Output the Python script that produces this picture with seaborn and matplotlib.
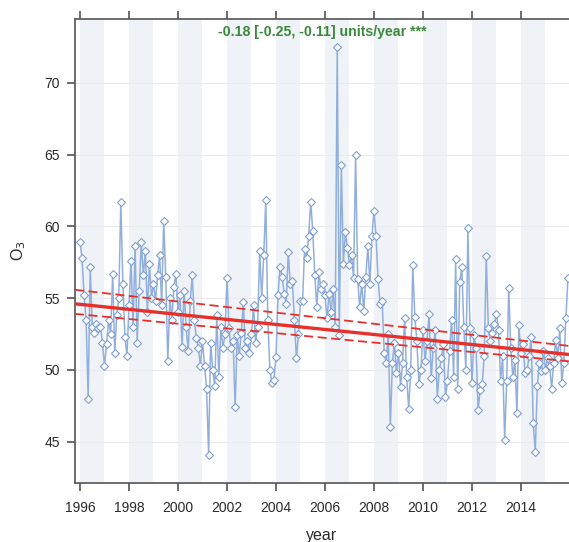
import numpy as np
import pandas as pd
import matplotlib
matplotlib.use("Agg")
import matplotlib.pyplot as plt
import seaborn as sns

# ---- data (monthly mean O3, Jan 1996 - Dec 2015) ----
years = list(range(1996, 2016))
o3_1996 = [58.9, 57.8, 55.2, 53.5, 48.0, 57.2, 53.0, 52.6, 53.2, 52.9, 53.0, 51.9]
o3_1997 = [50.3, 51.8, 53.5, 52.5, 56.7, 51.2, 53.8, 55.0, 61.7, 56.0, 52.3, 51.0]
o3_1998 = [54.5, 57.6, 53.0, 58.6, 51.9, 55.5, 58.9, 56.6, 58.3, 54.0, 57.4, 55.0]
o3_1999 = [56.0, 54.8, 56.6, 58.0, 54.5, 60.4, 56.5, 50.6, 55.0, 53.5, 55.8, 56.7]
o3_2000 = [54.0, 55.2, 51.6, 55.5, 53.0, 51.3, 54.8, 56.6, 53.5, 52.2, 51.5, 50.3]
o3_2001 = [52.0, 50.3, 48.7, 44.1, 51.9, 50.0, 48.9, 53.8, 49.5, 53.0, 51.5, 52.5]
o3_2002 = [56.4, 52.9, 51.5, 52.0, 47.4, 52.4, 51.0, 52.6, 54.7, 51.5, 52.0, 51.2]
o3_2003 = [52.5, 54.5, 51.9, 53.0, 58.3, 55.0, 58.0, 61.8, 53.5, 50.0, 49.1, 49.3]
o3_2004 = [50.9, 55.2, 57.2, 56.5, 55.3, 54.6, 58.2, 56.0, 56.2, 53.5, 50.8, 52.5]
o3_2005 = [54.8, 54.8, 58.4, 57.8, 59.3, 61.7, 59.7, 56.6, 54.4, 56.8, 55.6, 56.0]
o3_2006 = [55.2, 53.6, 55.3, 54.0, 55.6, 53.0, 72.5, 52.4, 64.3, 57.4, 59.6, 58.5]
o3_2007 = [57.3, 58.0, 56.4, 65.0, 56.3, 54.4, 56.0, 54.1, 56.5, 58.6, 56.0, 59.3]
o3_2008 = [61.1, 59.3, 56.3, 54.6, 54.8, 51.2, 50.5, 52.5, 46.0, 50.5, 51.9, 49.8]
o3_2009 = [51.2, 48.8, 50.5, 53.6, 49.5, 47.3, 50.0, 57.3, 53.7, 52.0, 49.0, 50.0]
o3_2010 = [52.8, 50.6, 52.0, 53.9, 49.4, 51.5, 52.8, 48.0, 50.0, 50.8, 51.8, 48.1]
o3_2011 = [49.2, 51.3, 53.5, 49.5, 57.7, 48.7, 56.1, 57.2, 53.0, 50.0, 59.9, 52.9]
o3_2012 = [49.1, 52.4, 51.5, 47.2, 48.6, 49.0, 51.0, 57.9, 52.9, 52.0, 52.6, 53.2]
o3_2013 = [53.9, 52.8, 49.2, 51.0, 45.1, 49.2, 55.7, 51.5, 49.5, 50.7, 47.0, 53.1]
o3_2014 = [51.2, 51.8, 49.8, 50.0, 51.0, 52.3, 46.3, 44.3, 48.9, 50.5, 49.9, 51.3]
o3_2015 = [50.0, 50.8, 50.3, 48.7, 50.5, 52.1, 50.8, 52.9, 49.1, 50.5, 53.6, 56.4]

# Theil-Sen trend: (value at 1996, slope per year)
trend_mid = (54.565, -0.175)
trend_upper = (55.54, -0.194)
trend_lower = (53.87, -0.164)
trend_label = "-0.18 [-0.25, -0.11] units/year ***"

x_ticks = [1996, 1998, 2000, 2002, 2004, 2006, 2008, 2010, 2012, 2014]
y_ticks = [45, 50, 55, 60, 65, 70]

all_vals = (o3_1996 + o3_1997 + o3_1998 + o3_1999 + o3_2000 + o3_2001 + o3_2002 +
            o3_2003 + o3_2004 + o3_2005 + o3_2006 + o3_2007 + o3_2008 + o3_2009 +
            o3_2010 + o3_2011 + o3_2012 + o3_2013 + o3_2014 + o3_2015)
dates = [y + m / 12.0 for y in years for m in range(12)]
df = pd.DataFrame({"year": dates, "O3": all_vals})

# ---- figure ----
sns.set_theme(style="white")
plt.rcParams["font.family"] = ["Liberation Sans", "DejaVu Sans"]

fig = plt.figure(figsize=(5.69, 5.42), dpi=100)
ax = fig.add_axes([75 / 569, 1 - 483 / 542, 1 - 75 / 569, (483 - 19) / 542])

xmin, xmax = 1995.796, 2015.96
ymin, ymax = 42.12, 74.44

# alternating year shading
for y in years:
    if y % 2 == 0:
        ax.axvspan(y, y + 1, color="#eff3f7", lw=0, zorder=0)
for yt in y_ticks:
    ax.axhline(yt, color="#e8eaed", lw=0.8, zorder=0.5)

sns.lineplot(data=df, x="year", y="O3", ax=ax, color="#92afdc", lw=1.1,
             marker="D", markersize=3.6, markerfacecolor="white",
             markeredgecolor="#7f9fd0", markeredgewidth=0.8, zorder=2)

# trend lines
tx = np.array([xmin, xmax])
tdf = pd.DataFrame({
    "year": np.concatenate([tx, tx, tx]),
    "val": np.concatenate([trend_mid[0] + trend_mid[1] * (tx - 1996),
                           trend_upper[0] + trend_upper[1] * (tx - 1996),
                           trend_lower[0] + trend_lower[1] * (tx - 1996)]),
    "kind": ["mid"] * 2 + ["upper"] * 2 + ["lower"] * 2,
})
sns.lineplot(data=tdf[tdf.kind == "mid"], x="year", y="val", ax=ax,
             color="#e8302a", lw=2.4, zorder=4)
for k in ["upper", "lower"]:
    sns.lineplot(data=tdf[tdf.kind == k], x="year", y="val", ax=ax,
                 color="#e8302a", lw=1.3, linestyle=(0, (5, 2.5)), zorder=4)

ax.set_xlim(xmin, xmax)
ax.set_ylim(ymin, ymax)
ax.set_xticks(x_ticks)
ax.set_xticklabels([str(t) for t in x_ticks])
ax.set_yticks(y_ticks)
ax.set_yticklabels([str(t) for t in y_ticks])

for s in ["left", "bottom", "top"]:
    ax.spines[s].set_color("#555555")
    ax.spines[s].set_linewidth(1.2)
ax.spines["right"].set_visible(False)

ax.tick_params(axis="x", which="both", direction="out", length=6, width=1.1,
               color="#444444", top=True, bottom=True, labeltop=False,
               labelsize=10, labelcolor="#2a2a2a", pad=7)
ax.tick_params(axis="y", direction="out", length=6, width=1.1, color="#444444",
               left=True, labelsize=10, labelcolor="#2a2a2a", pad=5)

ax.set_xlabel("year", fontsize=11.5, color="#2a2a2a", labelpad=9)
ax.set_ylabel("O$_3$", fontsize=11.5, color="#2a2a2a", labelpad=12)

ax.text(0.5, 0.972, trend_label, transform=ax.transAxes, ha="center", va="center",
        fontsize=10.2, fontweight="bold", color="#3b8a3b", zorder=5)

fig.savefig("out.png", dpi=100)
